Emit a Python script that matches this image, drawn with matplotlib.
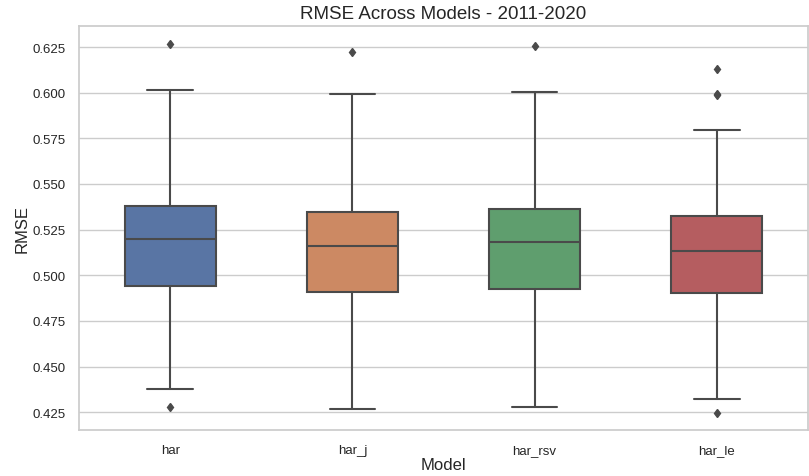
import matplotlib
matplotlib.use("Agg")
import matplotlib.pyplot as plt
import seaborn as sns

sns.set_theme(style="whitegrid")
plt.rcParams["font.family"] = ["Liberation Sans", "DejaVu Sans"]

models = ["har", "har_j", "har_rsv", "har_le"]
whisker_low = [0.4375, 0.4270, 0.4278, 0.4324]
q1 = [0.4940, 0.4907, 0.4925, 0.4901]
median = [0.5197, 0.5160, 0.5183, 0.5133]
q3 = [0.5378, 0.5345, 0.5362, 0.5327]
whisker_high = [0.6014, 0.5995, 0.6002, 0.5793]
outliers = [
    [0.6265, 0.4280],
    [0.6220],
    [0.6254],
    [0.6132, 0.5995, 0.5985, 0.4247],
]

palette = sns.color_palette("deep", 4)
colors = [sns.desaturate(c, 0.75) for c in palette]
line_color = "#4a4a4a"

stats = []
for i, m in enumerate(models):
    stats.append(dict(label=m, whislo=whisker_low[i], q1=q1[i], med=median[i],
                      q3=q3[i], whishi=whisker_high[i], fliers=outliers[i]))

fig = plt.figure(figsize=(8.09, 4.77), dpi=100)
ax = fig.add_axes([0.0977, 0.0964, 0.901, 0.847])

bp = ax.bxp(stats, positions=range(len(models)), widths=0.5, patch_artist=True,
            boxprops=dict(edgecolor=line_color, linewidth=1.5),
            medianprops=dict(color=line_color, linewidth=1.5),
            whiskerprops=dict(color=line_color, linewidth=1.5),
            capprops=dict(color=line_color, linewidth=1.5),
            flierprops=dict(marker="d", markerfacecolor=line_color,
                            markeredgecolor=line_color, markersize=4.5))
for patch, c in zip(bp["boxes"], colors):
    patch.set_facecolor(c)

ax.set_xlim(-0.5, 3.5)
ax.set_ylim(0.4153, 0.6365)
ax.set_yticks([0.425, 0.45, 0.475, 0.5, 0.525, 0.55, 0.575, 0.6, 0.625])
ax.set_yticklabels([f"{v:.3f}" for v in ax.get_yticks()])
ax.set_xticks(range(len(models)))
ax.set_xticklabels(models)
ax.tick_params(labelsize=9.5, pad=4)
ax.set_xlabel("Model", fontsize=12, labelpad=1)
ax.set_ylabel("RMSE", fontsize=12, labelpad=2)
ax.set_title("RMSE Across Models - 2011-2020", fontsize=13.5)
ax.xaxis.grid(False)

fig.savefig("out.png", dpi=100)
